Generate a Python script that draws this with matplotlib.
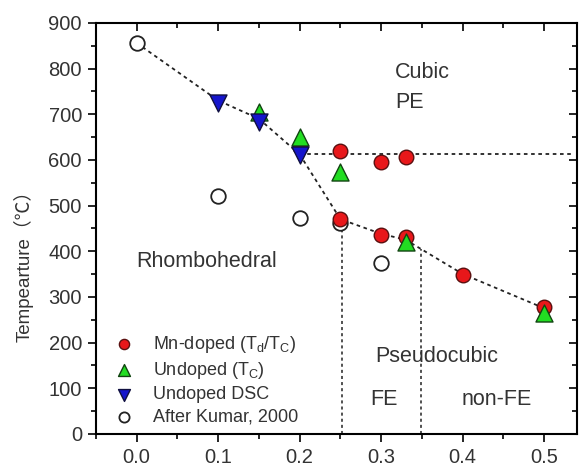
import matplotlib.pyplot as plt
from matplotlib.ticker import MultipleLocator

plt.rcParams['font.family'] = ['Liberation Sans', 'Noto Sans CJK SC', 'DejaVu Sans']

# Mn-doped (Td/Tc)
mn_x = [0.2, 0.25, 0.3, 0.33, 0.25, 0.3, 0.33, 0.4, 0.5]
mn_y = [628, 620, 595, 607, 470, 436, 431, 348, 277]
# Undoped (Tc)
un_x = [0.15, 0.2, 0.25, 0.33, 0.5]
un_y = [705, 650, 574, 420, 265]
# Undoped DSC
dsc_x = [0.1, 0.15, 0.2]
dsc_y = [724, 683, 611]
# After Kumar, 2000
ku_x = [0.0, 0.1, 0.2, 0.25, 0.3]
ku_y = [856, 521, 473, 462, 374]

# phase boundary guide lines
b1_x = [0.0, 0.1, 0.15, 0.2]
b1_y = [856, 730, 690, 612]
b2_x = [0.2, 0.535]
b2_y = [612, 612]
b3_x = [0.2, 0.25, 0.3, 0.33, 0.4, 0.5]
b3_y = [612, 470, 438, 425, 350, 275]
v_x = [0.2525, 0.349]
v_top = [465, 405]

fig, ax = plt.subplots(figsize=(5.88, 4.66), dpi=100)
fig.subplots_adjust(left=0.163, right=0.981, top=0.951, bottom=0.069)

ls = dict(color='#222222', lw=1.3, ls=(0, (2, 2)))
ax.plot(b1_x, b1_y, **ls, zorder=1)
ax.plot(b2_x, b2_y, **ls, zorder=1)
ax.plot(b3_x, b3_y, **ls, zorder=1)
for x, t in zip(v_x, v_top):
    ax.plot([x, x], [0, t], color='#222222', lw=1.1, ls=(0, (2, 2)), zorder=1)

ax.scatter(mn_x, mn_y, s=110, marker='o', facecolor='#e8171a', edgecolor='#5a1010', lw=1, zorder=3,
           label='Mn-doped (T$_\\mathregular{d}$/T$_\\mathregular{C}$)')
ax.scatter(un_x, un_y, s=150, marker='^', facecolor='#22dd22', edgecolor='#114411', lw=1, zorder=4,
           label='Undoped (T$_\\mathregular{C}$)')
ax.scatter(dsc_x, dsc_y, s=150, marker='v', facecolor='#1515cc', edgecolor='#101040', lw=1, zorder=4,
           label='Undoped DSC')
ax.scatter(ku_x, ku_y, s=110, marker='o', facecolor='white', edgecolor='#222222', lw=1.3, zorder=2,
           label='After Kumar, 2000')

ax.set_xlim(-0.05, 0.54)
ax.set_ylim(0, 900)
ax.xaxis.set_major_locator(MultipleLocator(0.1))
ax.xaxis.set_minor_locator(MultipleLocator(0.05))
ax.yaxis.set_major_locator(MultipleLocator(100))
ax.yaxis.set_minor_locator(MultipleLocator(50))
ax.xaxis.set_major_formatter(plt.FuncFormatter(lambda v, p: f'{v:.1f}'))
ax.tick_params(axis='both', which='major', direction='out', length=6, width=1.2, labelsize=14.5,
               labelcolor='#333333', pad=4)
ax.tick_params(axis='both', which='minor', direction='out', length=3.5, width=1.2)
ax.tick_params(top=True, right=True, which='both')
for t in ax.xaxis.get_major_ticks() + ax.xaxis.get_minor_ticks():
    t.tick2line.set_marker(3)
for t in ax.yaxis.get_major_ticks() + ax.yaxis.get_minor_ticks():
    t.tick2line.set_marker(0)
for s in ax.spines.values():
    s.set_linewidth(1.5)

ax.set_ylabel('Tempearture（℃）', fontsize=13.5, color='#333333')
ax.yaxis.set_label_coords(-0.13, 0.42)

tk = dict(fontsize=15.5, color='#333333', ha='left', va='baseline')
ax.text(0.317, 779, 'Cubic', **tk)
ax.text(0.317, 714, 'PE', **tk)
ax.text(-0.001, 366, 'Rhombohedral', **tk)
ax.text(0.293, 158, 'Pseudocubic', **tk)
ax.text(0.286, 63, 'FE', **tk)
ax.text(0.398, 63, 'non-FE', **tk)

ax.legend(loc='lower left', bbox_to_anchor=(0.0, -0.02), frameon=False, fontsize=13, markerscale=0.7,
          handletextpad=0.95, labelspacing=0.3, labelcolor='#333333', handlelength=1.3)

fig.savefig('out.png')
